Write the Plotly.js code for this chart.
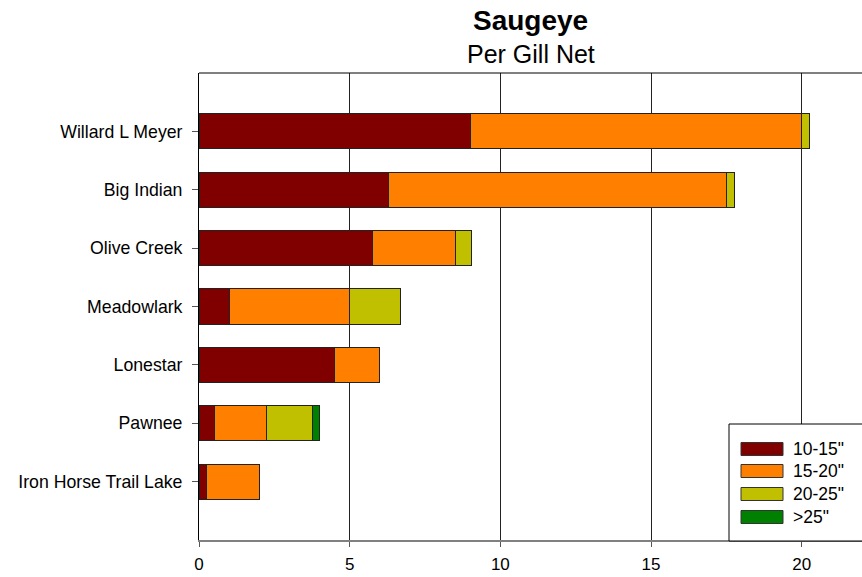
<!DOCTYPE html>
<html><head><meta charset="utf-8">
<script src="https://cdn.plot.ly/plotly-3.0.1.min.js"></script>
<style>html,body{margin:0;padding:0;background:#fff}#c{width:862px;height:577px}</style>
</head><body><div id="c"></div>
<script>
const lakes = ["Willard L Meyer","Big Indian","Olive Creek","Meadowlark","Lonestar","Pawnee","Iron Horse Trail Lake"];
const seriesNames = ["10-15\"","15-20\"","20-25\"",">25\""];
const s10_15 = [9.0, 6.28, 5.77, 1.0, 4.5, 0.5, 0.25];
const s15_20 = [11.0, 11.24, 2.74, 4.0, 1.5, 1.75, 1.75];
const s20_25 = [0.25, 0.24, 0.53, 1.67, 0, 1.5, 0];
const s25up  = [0, 0, 0, 0, 0, 0.25, 0];
const colors = ["#800000","#ff8000","#c0c000","#008000"];
const xTicks = [0,5,10,15,20];

const allSeries = [s10_15, s15_20, s20_25, s25up];
const traces = allSeries.map((vals,i)=>({
  type:'bar', orientation:'h', name:seriesNames[i],
  y: lakes.map((_,k)=>k), x: vals,
  marker:{color:colors[i], line:{color:'#222', width:1}},
  width:0.6, showlegend:false, hoverinfo:'x+name'
}));

const FONT='Liberation Sans, Arial';
const shapes = [{type:'line', xref:'paper', yref:'paper', x0:0, x1:1, y0:1, y1:1, line:{color:'#000', width:1}}];
const annotations = [
  {text:'<b>Saugeye</b>', xref:'paper', yref:'paper', x:0.5, y:1, yanchor:'middle', yshift:53, showarrow:false, font:{family:FONT, size:28, color:'#000'}},
  {text:'Per Gill Net', xref:'paper', yref:'paper', x:0.5, y:1, yanchor:'middle', yshift:19, showarrow:false, font:{family:FONT, size:25, color:'#000'}}
];
// custom legend (pixel geometry converted to paper coords)
const L=199, W=663, T=73, H=467;
const px = x => (x-L)/W, py = y => 1-(y-T)/H;
shapes.push({type:'rect', xref:'paper', yref:'paper', x0:px(729), x1:px(870), y0:py(424), y1:py(541), line:{color:'#000', width:1}, fillcolor:'#fff', layer:'above'});
const rowY=[449,471,494,517];
seriesNames.forEach((n,i)=>{
  shapes.push({type:'rect', xref:'paper', yref:'paper', x0:px(741), x1:px(783), y0:py(rowY[i]-6.5), y1:py(rowY[i]+6.5), fillcolor:colors[i], line:{color:'#333', width:1}, layer:'above'});
  annotations.push({text:n, xref:'paper', yref:'paper', x:px(791), y:py(rowY[i]), xanchor:'left', yanchor:'middle', showarrow:false, font:{family:FONT, size:17.5, color:'#000'}});
});

const layout = {
  width:862, height:577, margin:{l:199, r:0, t:73, b:37},
  paper_bgcolor:'#fff', plot_bgcolor:'#fff', barmode:'stack', showlegend:false,
  font:{family:FONT, size:17, color:'#000'},
  xaxis:{range:[0,22], tickvals:xTicks, ticktext:xTicks.map(String), showgrid:true, gridcolor:'#222', gridwidth:1,
    zeroline:false, showline:true, linecolor:'#808080', linewidth:2, ticks:'outside', ticklen:5, tickcolor:'#555',
    ticklabelstandoff:3, tickfont:{size:17}, fixedrange:true},
  yaxis:{range:[7,-1], tickvals:lakes.map((_,k)=>k), ticktext:lakes, showgrid:false, zeroline:false,
    showline:true, linecolor:'#000', linewidth:1, ticks:'outside', ticklen:6, tickcolor:'#555',
    ticklabelstandoff:6, tickfont:{size:17.7}, fixedrange:true},
  shapes:shapes, annotations:annotations
};
Plotly.newPlot('c', traces, layout, {displayModeBar:false, staticPlot:true});
</script></body></html>
